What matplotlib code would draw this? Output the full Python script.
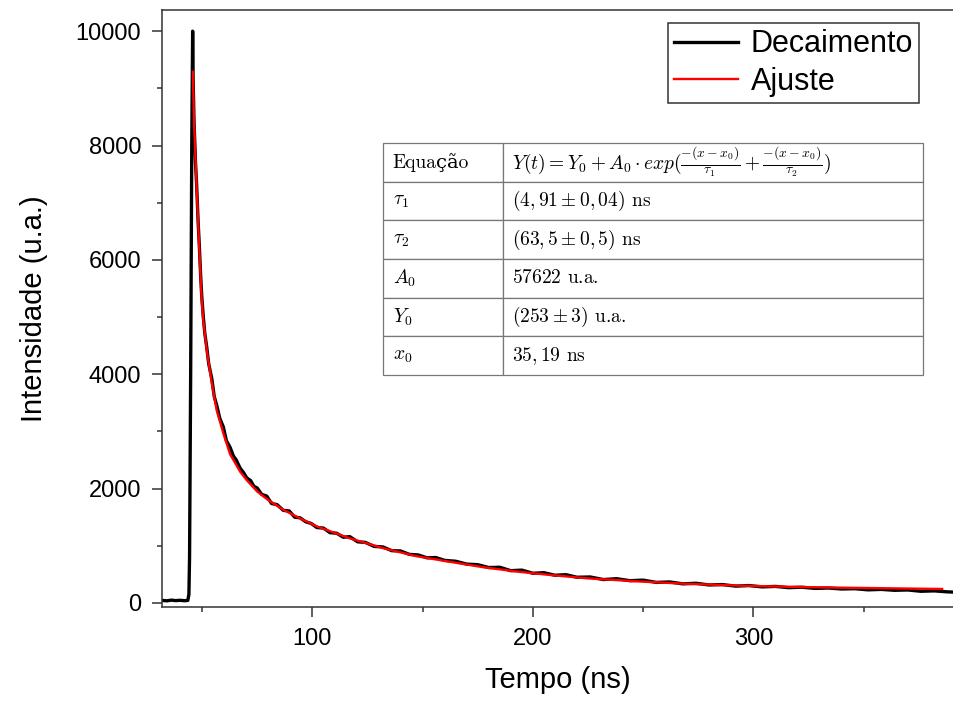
import numpy as np
import matplotlib
matplotlib.use('Agg')
import matplotlib.pyplot as plt
from matplotlib.ticker import MultipleLocator

plt.rcParams['font.family'] = ['Liberation Sans', 'DejaVu Sans']
plt.rcParams['mathtext.fontset'] = 'cm'

###########################################################

# curva de decaimento
t_dec = [32, 34, 36, 38, 40, 42, 43.5, 44.0, 44.3, 44.8, 45.3, 45.7,
         45.9, 46.3, 47.0, 47.5, 48.2, 48.7, 49.3, 49.8, 50.5, 51.2, 52.1, 53.0,
         54.4, 55.5, 56.6, 58.0, 59.6, 61.0, 62.7, 64.2, 65.5, 67.2, 68.8, 70.2,
         72.0, 73.5, 75.0, 77.0, 79.3, 81.5, 84.0, 86.8, 89.5, 92.0, 94.4, 97.0,
         99.5, 102, 105, 108, 111, 114, 117, 120.5, 124, 128, 132, 136,
         140, 144, 148, 152, 156, 160, 165, 170, 175, 180, 185, 190,
         195, 200, 205, 210, 215, 220, 226, 232, 238, 244, 250, 256,
         262, 268, 274, 280, 286, 292, 298, 304, 310, 316, 322, 328,
         334, 340, 346, 352, 358, 364, 370, 376, 382, 388, 391]
y_dec = [45, 38, 50, 42, 47, 40, 45, 150, 800, 4000, 8000, 10000,
         9200, 8450, 7700, 7320, 6650, 6270, 5750, 5380, 5020, 4720, 4470, 4180,
         3920, 3610, 3460, 3230, 3080, 2840, 2720, 2570, 2500, 2360, 2280, 2190,
         2140, 2040, 2010, 1900, 1870, 1740, 1720, 1620, 1610, 1500, 1490, 1420,
         1390, 1320, 1310, 1230, 1220, 1150, 1160, 1070, 1060, 990, 980, 915,
         910, 850, 840, 790, 795, 745, 730, 680, 670, 620, 625, 565,
         575, 520, 530, 485, 495, 450, 455, 410, 425, 390, 400, 360,
         368, 335, 345, 315, 322, 295, 305, 282, 290, 268, 276, 255,
         262, 245, 250, 230, 238, 222, 228, 205, 212, 195, 190]

# curva ajustada
t_fit = [45.8, 46.3, 47.5, 48.7, 49.8, 50.5, 52.1, 54.4, 56.6, 59.6, 62.7, 64.2,
         67.2, 70.2, 75, 79.3, 86.8, 94.4, 102, 117, 132, 147, 162.5, 177.6,
         192.7, 207.8, 225, 249, 270, 294, 320, 340, 365, 385.6]
y_fit = [9290, 8440, 7280, 6200, 5300, 4950, 4420, 3840, 3370, 2970, 2600, 2500,
         2300, 2150, 1950, 1820, 1630, 1480, 1340, 1130, 960, 820, 720, 625,
         550, 490, 430, 375, 335, 303, 280, 268, 255, 245]

# tabela de parametros
tab_rows = ['Equação', r'$\tau_1$', r'$\tau_2$', r'$A_0$', r'$Y_0$', r'$x_0$']
tab_vals = [r'$Y(t) = Y_0 + A_0 \cdot exp(\frac{-(x-x_0)}{\tau_1} + \frac{-(x-x_0)}{\tau_2})$',
            r'$(4,91 \pm 0,04)$ ns',
            r'$(63,5 \pm 0,5)$ ns',
            r'$57622$ u.a.',
            r'$(253 \pm 3)$ u.a.',
            r'$35,19$ ns']

###########################################################

fig = plt.figure(figsize=(9.54, 7.02), dpi=100)
ax = fig.add_axes([162/954, 1 - 607/702, 792/954, 597/702])

ax.plot(t_dec, y_dec, color='black', lw=2.4, label='Decaimento')
ax.plot(t_fit, y_fit, color='red', lw=1.7, label='Ajuste')

ax.set_xlim(31.8, 391)
ax.set_ylim(-70, 10370)
ax.xaxis.set_major_locator(MultipleLocator(100))
ax.xaxis.set_minor_locator(MultipleLocator(50))
ax.yaxis.set_major_locator(MultipleLocator(2000))
ax.yaxis.set_minor_locator(MultipleLocator(1000))
ax.tick_params(which='major', direction='out', length=7, width=1.1, labelsize=17, pad=8, color='#333333')
ax.tick_params(which='minor', direction='out', length=3.5, width=1.1, color='#333333')
ax.spines['right'].set_visible(False)
for s in ['left', 'bottom', 'top']:
    ax.spines[s].set_linewidth(1.1)
    ax.spines[s].set_color('#333333')

ax.set_xlabel('Tempo (ns)', fontsize=21, labelpad=12)
ax.set_ylabel('Intensidade (u.a.)', fontsize=21, labelpad=20)

leg = ax.legend(loc='upper right', bbox_to_anchor=(0.956, 0.978), fontsize=22,
                frameon=True, fancybox=False, edgecolor='#333333', framealpha=1,
                handlelength=2.1, handletextpad=0.4, labelspacing=0.25,
                borderpad=0.2, borderaxespad=0)
leg.get_frame().set_linewidth(1.1)

###########################################################

# tabela
tax = fig.add_axes([383/954, 1 - 375/702, 540/954, 232/702])
tax.axis('off')
cells = [[r, v] for r, v in zip(tab_rows, tab_vals)]
tb = tax.table(cellText=cells, cellLoc='left', bbox=[0, 0, 1, 1],
               colWidths=[120/540, 420/540])
tb.auto_set_font_size(False)
for (i, j), cell in tb.get_celld().items():
    cell.set_edgecolor('#777777')
    cell.set_linewidth(0.9)
    cell.PAD = 0.08 if j == 0 else 0.022
    cell.get_text().set_fontsize(14)
    cell.get_text().set_family(['cmr10', 'DejaVu Serif'])

fig.savefig('out.png', dpi=100)
